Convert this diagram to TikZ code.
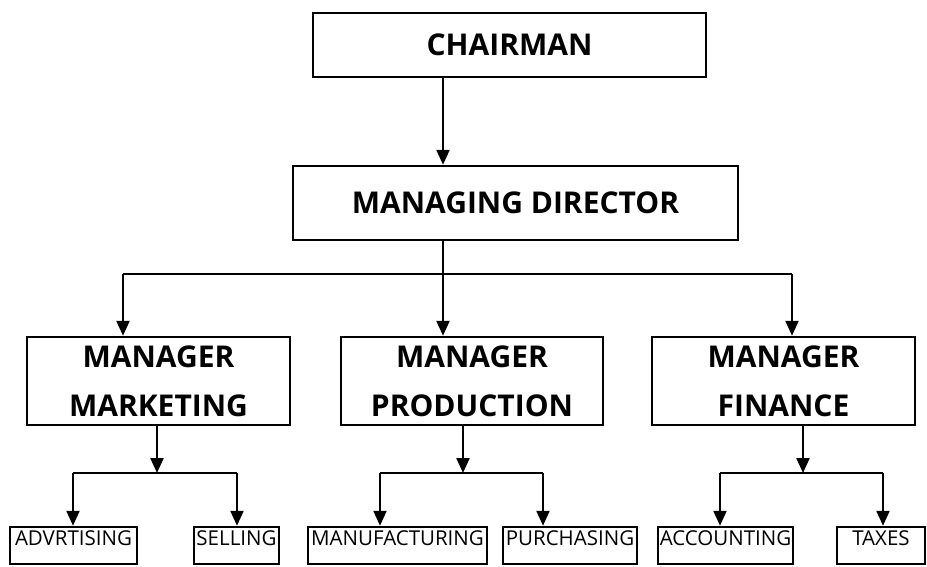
\documentclass[tikz,border=0pt]{standalone}
\usepackage{fontspec}
\setmainfont{Open Sans}
\usetikzlibrary{arrows.meta}

\tikzset{
	headbox/.style={draw,line width=2.5pt,inner sep=0pt,align=center,font=\fontsize{30}{49}\selectfont\bfseries},
	unitbox/.style={draw,line width=2.5pt,inner xsep=0pt,inner ysep=2pt,text height=16pt,text depth=17pt,font=\fontsize{20.5}{24}\selectfont},
	wire/.style={line width=2.3pt},
	arr/.style={line width=2.3pt,-{Triangle[length=15pt,width=13pt]}}
}

\begin{document}
\begin{tikzpicture}[x=1pt,y=-1pt]
	\useasboundingbox (0,0) rectangle (927,566);
	
	\node[headbox,minimum width=393pt,minimum height=64pt] (chair) at (509.5,45) {CHAIRMAN};
	\node[headbox,minimum width=445pt,minimum height=74pt] (md) at (515.5,203) {MANAGING DIRECTOR};
	
	\node[headbox,minimum width=263pt,minimum height=88pt] (mm) at (158.5,381) {MANAGER \\ MARKETING};
	\node[headbox,minimum width=262pt,minimum height=88pt] (mp) at (472,381) {MANAGER \\ PRODUCTION};
	\node[headbox,minimum width=263pt,minimum height=88pt] (mf) at (783.5,381) {MANAGER \\ FINANCE};
	
	\node[unitbox,minimum width=127pt] (adv) at (73.5,545.5) {ADVRTISING};
	\node[unitbox,minimum width=85pt] (sell) at (236.5,545.5) {SELLING};
	\node[unitbox,minimum width=179pt] (manu) at (397.5,545.5) {MANUFACTURING};
	\node[unitbox,minimum width=134pt] (purch) at (570,545.5) {PURCHASING};
	\node[unitbox,minimum width=135pt] (acc) at (725.5,545.5) {ACCOUNTING};
	\node[unitbox,minimum width=88pt] (tax) at (881,545.5) {TAXES};
	
	%top
	\coordinate (bus) at (443,274);
	\coordinate (busL) at (123,274);
	\coordinate (busR) at (792,274);
	\draw[arr] (chair.south -| bus) -- (md.north -| bus);
	\draw[wire] (md.south -| bus) -- (bus);
	\draw[wire] (busL) -- (busR);
	\draw[arr] (busL) -- (mm.north -| busL);
	\draw[arr] (bus) -- (mp.north -| bus);
	\draw[arr] (busR) -- (mf.north -| busR);
	
	%marketing
	\coordinate (mmJ) at (157,473);	\coordinate (mmL) at (73,473);	\coordinate (mmR) at (237,473);
	\draw[arr] (mm.south -| mmJ) -- (mmJ);
	\draw[wire] (mmL) -- (mmR);
	\draw[arr] (mmL) -- (adv.north -| mmL);	\draw[arr] (mmR) -- (sell.north -| mmR);
	
	%production
	\coordinate (mpJ) at (463,473);	\coordinate (mpL) at (380,473);	\coordinate (mpR) at (543,473);
	\draw[arr] (mp.south -| mpJ) -- (mpJ);
	\draw[wire] (mpL) -- (mpR);
	\draw[arr] (mpL) -- (manu.north -| mpL);	\draw[arr] (mpR) -- (purch.north -| mpR);
	
	%finance
	\coordinate (mfJ) at (803,473);	\coordinate (mfL) at (720,473);	\coordinate (mfR) at (883,473);
	\draw[arr] (mf.south -| mfJ) -- (mfJ);
	\draw[wire] (mfL) -- (mfR);
	\draw[arr] (mfL) -- (acc.north -| mfL);	\draw[arr] (mfR) -- (tax.north -| mfR);
\end{tikzpicture}
\end{document}
